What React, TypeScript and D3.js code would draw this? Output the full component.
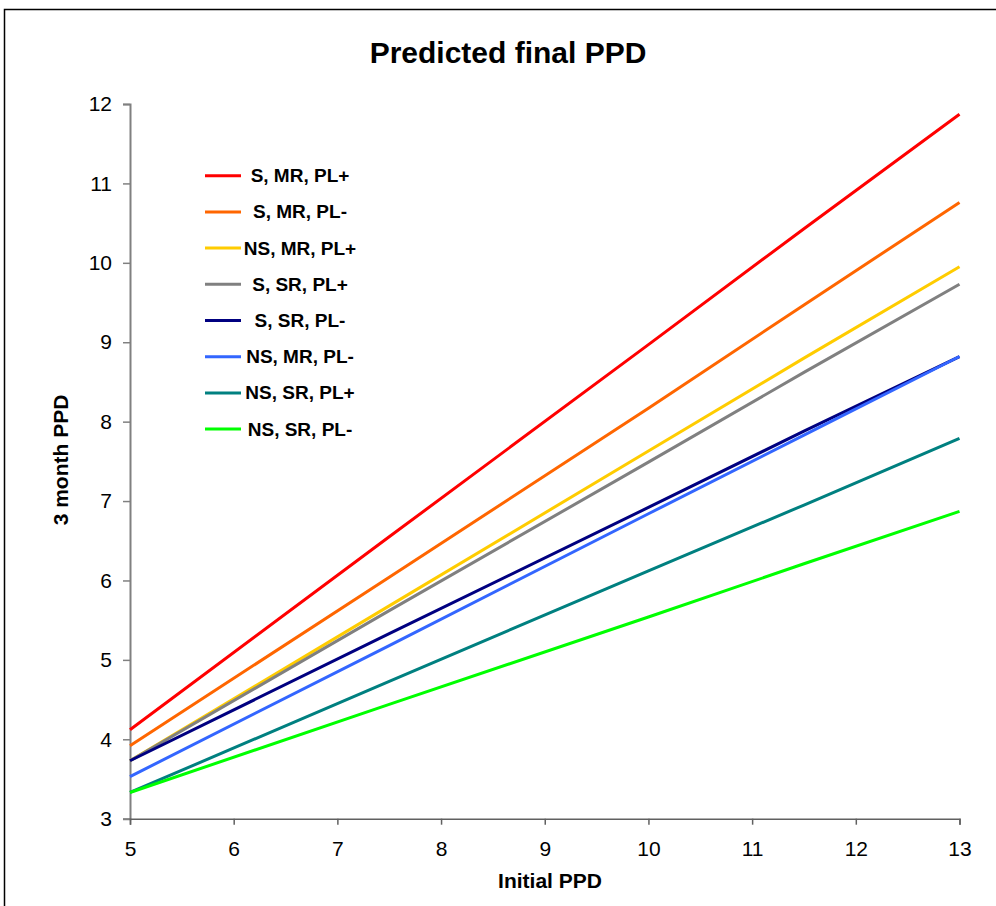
import { useEffect, useRef } from "react";
import * as d3 from "d3";

const initialPPD = [5, 7.5, 10, 11.5, 13];
const seriesNames = [
  "S, MR, PL+",
  "S, MR, PL-",
  "NS, MR, PL+",
  "S, SR, PL+",
  "S, SR, PL-",
  "NS, MR, PL-",
  "NS, SR, PL+",
  "NS, SR, PL-",
];
const sMrPlPlus = [4.12, 6.55, 8.97, 10.43, 11.87];
const sMrPlMinus = [3.92, 6.04, 8.17, 9.47, 10.76];
const nsMrPlPlus = [3.73, 5.68, 7.63, 8.8, 9.95];
const sSrPlPlus = [3.73, 5.62, 7.49, 8.62, 9.73];
const sSrPlMinus = [3.73, 5.33, 6.92, 7.88, 8.82];
const nsMrPlMinus = [3.53, 5.18, 6.84, 7.83, 8.82];
const nsSrPlPlus = [3.33, 4.73, 6.12, 6.95, 7.79];
const nsSrPlMinus = [3.33, 4.44, 5.54, 6.21, 6.87];
const yTicks = [3, 4, 5, 6, 7, 8, 9, 10, 11, 12];
const xTicks = [5, 6, 7, 8, 9, 10, 11, 12, 13];

const allSeries = [
  sMrPlPlus,
  sMrPlMinus,
  nsMrPlPlus,
  sSrPlPlus,
  sSrPlMinus,
  nsMrPlMinus,
  nsSrPlPlus,
  nsSrPlMinus,
];
const colors = [
  "#ff0000",
  "#ff6600",
  "#ffcc00",
  "#808080",
  "#000080",
  "#3366ff",
  "#008080",
  "#00ff00",
];

export default function App() {
  const ref = useRef<SVGSVGElement>(null);

  useEffect(() => {
    const svg = d3.select(ref.current);
    svg.selectAll("*").remove();
    const font = "Liberation Sans, Arial, sans-serif";

    // outer frame
    svg
      .append("rect")
      .attr("x", 4.5)
      .attr("y", 9.5)
      .attr("width", 1100)
      .attr("height", 1100)
      .attr("fill", "white")
      .attr("stroke", "#000")
      .attr("stroke-width", 1.5);

    const x = d3.scaleLinear().domain([5, 13]).range([130, 959.5]);
    const y = d3.scaleLinear().domain([3, 12]).range([818.7, 104]);

    // y axis
    const yAxis = svg
      .append("g")
      .attr("transform", "translate(130,0)")
      .call(d3.axisLeft(y).tickValues(yTicks).tickSize(7).tickPadding(11));
    yAxis.select(".domain").attr("stroke", "#808080").attr("stroke-width", 2);
    yAxis.selectAll(".tick line").attr("stroke", "#808080").attr("stroke-width", 1.5);
    yAxis
      .selectAll(".tick text")
      .attr("font-family", font)
      .attr("font-size", 21)
      .attr("fill", "#000");

    // x axis
    const xAxis = svg
      .append("g")
      .attr("transform", "translate(0,818.7)")
      .call(d3.axisBottom(x).tickValues(xTicks).tickSize(6).tickPadding(16));
    xAxis.select(".domain").attr("stroke", "#606060").attr("stroke-width", 1.5);
    xAxis.selectAll(".tick line").attr("stroke", "#606060").attr("stroke-width", 1.5);
    xAxis
      .selectAll(".tick text")
      .attr("font-family", font)
      .attr("font-size", 21)
      .attr("fill", "#000");

    // series lines
    const line = d3
      .line<number>()
      .x((_, i) => x(initialPPD[i]))
      .y((d) => y(d));

    svg
      .append("g")
      .selectAll("path")
      .data(allSeries)
      .enter()
      .append("path")
      .attr("d", (d) => line(d))
      .attr("fill", "none")
      .attr("stroke", (_, i) => colors[i])
      .attr("stroke-width", 3);

    // legend
    const legend = svg
      .append("g")
      .selectAll("g")
      .data(seriesNames)
      .enter()
      .append("g")
      .attr("transform", (_, i) => `translate(0, ${175.7 + i * 36.2})`);

    legend
      .append("line")
      .attr("x1", 205)
      .attr("x2", 241)
      .attr("stroke", (_, i) => colors[i])
      .attr("stroke-width", 3);

    legend
      .append("text")
      .attr("x", 300)
      .attr("y", 6.5)
      .attr("text-anchor", "middle")
      .attr("font-family", font)
      .attr("font-weight", "bold")
      .attr("font-size", 19)
      .text((d) => d);

    // title
    svg
      .append("text")
      .attr("x", 508)
      .attr("y", 63)
      .attr("text-anchor", "middle")
      .attr("font-family", font)
      .attr("font-weight", "bold")
      .attr("font-size", 30)
      .text("Predicted final PPD");

    // axis titles
    svg
      .append("text")
      .attr("x", 550)
      .attr("y", 887.5)
      .attr("text-anchor", "middle")
      .attr("font-family", font)
      .attr("font-weight", "bold")
      .attr("font-size", 21)
      .text("Initial PPD");

    svg
      .append("text")
      .attr("transform", "translate(68,460) rotate(-90)")
      .attr("text-anchor", "middle")
      .attr("font-family", font)
      .attr("font-weight", "bold")
      .attr("font-size", 21)
      .text("3 month PPD");
  }, []);

  return (
    <svg
      ref={ref}
      width={996}
      height={906}
      style={{ position: "absolute", left: 0, top: 0 }}
    />
  );
}
